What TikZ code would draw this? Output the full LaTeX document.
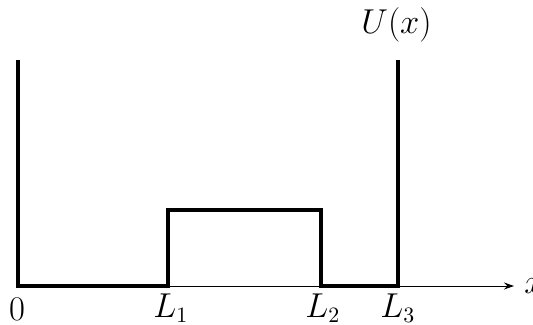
\documentclass[tikz,border=0pt]{standalone}
\usetikzlibrary{arrows.meta}
\begin{document}
\begin{tikzpicture}[x=0.5pt,y=-0.5pt,
  lbl/.style={inner sep=0pt,font=\fontsize{16}{19}\selectfont},
  pot/.style={line width=1.6pt,line join=miter},
  axis/.style={line width=0.5pt,-{Stealth[length=5pt,width=3.5pt]}}]
\useasboundingbox (0,0) rectangle (533,325);
\coordinate (o) at (17,286);
\coordinate (xend) at (514,286);
\coordinate (a) at (18,60);
\coordinate (b) at (18,286);
\coordinate (c) at (168,286);
\coordinate (d) at (168,210);
\coordinate (e) at (321,210);
\coordinate (f) at (321,286);
\coordinate (g) at (398,286);
\coordinate (h) at (398,60);
\draw[axis] (o) -- (xend);
\draw[pot] (a) -- (b) -- (c) -- (d) -- (e) -- (f) -- (g) -- (h);
\node[lbl,anchor=base] (l0) at (17,320) {$0$};
\node[lbl,anchor=base west] (l1) at (153,317) {$L_1$};
\node[lbl,anchor=base west] (l2) at (305,317) {$L_2$};
\node[lbl,anchor=base west] (l3) at (380,317) {$L_3$};
\node[lbl,anchor=base west] (ux) at (361,34) {$U(x)$};
\node[lbl,anchor=base west] (xl) at (524,293) {$x$};
\end{tikzpicture}
\end{document}
